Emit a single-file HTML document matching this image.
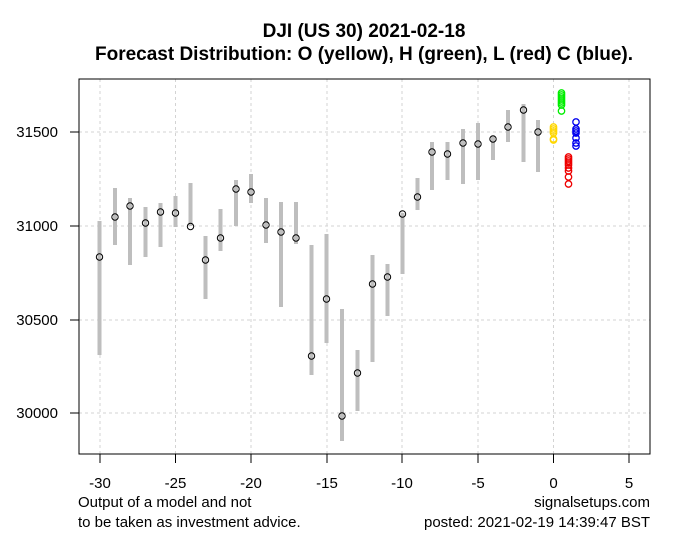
<!DOCTYPE html>
<html><head><meta charset="utf-8"><style>
body{margin:0;background:#fff}
svg text{font-family:"Liberation Sans",Arial,sans-serif}
</style></head><body>
<svg width="691" height="552" xmlns="http://www.w3.org/2000/svg">
<rect width="691" height="552" fill="#fff"/>
<text x="364" y="37" text-anchor="middle" font-size="19" font-weight="bold">DJI (US 30) 2021-02-18</text>
<text x="364" y="60" text-anchor="middle" font-size="19" font-weight="bold">Forecast Distribution: O (yellow), H (green), L (red) C (blue).</text>
<g stroke="#d3d3d3" stroke-dasharray="3,3" stroke-width="1">
<line x1="100" y1="79" x2="100" y2="454"/><line x1="175.5" y1="79" x2="175.5" y2="454"/>
<line x1="251" y1="79" x2="251" y2="454"/><line x1="327" y1="79" x2="327" y2="454"/>
<line x1="402" y1="79" x2="402" y2="454"/><line x1="478" y1="79" x2="478" y2="454"/>
<line x1="553.5" y1="79" x2="553.5" y2="454"/><line x1="629" y1="79" x2="629" y2="454"/>
<line x1="79" y1="132" x2="650" y2="132"/><line x1="79" y1="226" x2="650" y2="226"/>
<line x1="79" y1="320" x2="650" y2="320"/><line x1="79" y1="413" x2="650" y2="413"/>
</g>
<g stroke="#bebebe" stroke-width="4">
<line x1="99.5" y1="221" x2="99.5" y2="355"/>
<line x1="115" y1="188" x2="115" y2="245"/>
<line x1="130" y1="198" x2="130" y2="265"/>
<line x1="145.5" y1="207" x2="145.5" y2="257"/>
<line x1="160.5" y1="203" x2="160.5" y2="247"/>
<line x1="175.5" y1="196" x2="175.5" y2="227"/>
<line x1="190.5" y1="183" x2="190.5" y2="226"/>
<line x1="205.5" y1="236" x2="205.5" y2="299"/>
<line x1="220.5" y1="209" x2="220.5" y2="251"/>
<line x1="236" y1="180" x2="236" y2="226"/>
<line x1="251" y1="174" x2="251" y2="203"/>
<line x1="266" y1="198" x2="266" y2="243"/>
<line x1="281" y1="202" x2="281" y2="307"/>
<line x1="296" y1="202" x2="296" y2="244"/>
<line x1="311.5" y1="245" x2="311.5" y2="375"/>
<line x1="326.5" y1="234" x2="326.5" y2="343"/>
<line x1="342" y1="309" x2="342" y2="441"/>
<line x1="357.5" y1="350" x2="357.5" y2="411"/>
<line x1="372.5" y1="255" x2="372.5" y2="362"/>
<line x1="387.5" y1="264" x2="387.5" y2="316"/>
<line x1="402.5" y1="213" x2="402.5" y2="274"/>
<line x1="417.5" y1="178" x2="417.5" y2="210"/>
<line x1="432" y1="142" x2="432" y2="190"/>
<line x1="447.5" y1="142" x2="447.5" y2="180"/>
<line x1="463" y1="129" x2="463" y2="184"/>
<line x1="478" y1="123" x2="478" y2="180"/>
<line x1="493" y1="136" x2="493" y2="160"/>
<line x1="508" y1="110" x2="508" y2="142"/>
<line x1="523.5" y1="104" x2="523.5" y2="162"/>
<line x1="538" y1="120" x2="538" y2="172"/>
</g>
<g fill="none" stroke="#000" stroke-width="1">
<circle cx="99.5" cy="257" r="3.2"/><circle cx="115" cy="217" r="3.2"/><circle cx="130" cy="206" r="3.2"/>
<circle cx="145.5" cy="223" r="3.2"/><circle cx="160.5" cy="212" r="3.2"/><circle cx="175.5" cy="213" r="3.2"/>
<circle cx="190.5" cy="226.5" r="3.2"/><circle cx="205.5" cy="260" r="3.2"/><circle cx="220.5" cy="238" r="3.2"/>
<circle cx="236" cy="189" r="3.2"/><circle cx="251" cy="192" r="3.2"/><circle cx="266" cy="225" r="3.2"/>
<circle cx="281" cy="232" r="3.2"/><circle cx="296" cy="238" r="3.2"/><circle cx="311.5" cy="356" r="3.2"/>
<circle cx="326.5" cy="299" r="3.2"/><circle cx="342" cy="416" r="3.2"/><circle cx="357.5" cy="373" r="3.2"/>
<circle cx="372.5" cy="284" r="3.2"/><circle cx="387.5" cy="277" r="3.2"/><circle cx="402.5" cy="214" r="3.2"/>
<circle cx="417.5" cy="197" r="3.2"/><circle cx="432" cy="152" r="3.2"/><circle cx="447.5" cy="154" r="3.2"/>
<circle cx="463" cy="143" r="3.2"/><circle cx="478" cy="144" r="3.2"/><circle cx="493" cy="139" r="3.2"/>
<circle cx="508" cy="127" r="3.2"/><circle cx="523.5" cy="110" r="3.2"/><circle cx="538" cy="132" r="3.2"/>
</g>
<g fill="none" stroke="#ffd700" stroke-width="1.3">
<circle cx="553.5" cy="127" r="3.2"/><circle cx="553.5" cy="129" r="3.2"/><circle cx="553.5" cy="131" r="3.2"/><circle cx="553.5" cy="133" r="3.2"/><circle cx="553.5" cy="139" r="3.2"/><circle cx="553.5" cy="140" r="3.2"/>
</g>
<g fill="none" stroke="#00ee00" stroke-width="1.3">
<circle cx="561.5" cy="93" r="3.2"/><circle cx="561.5" cy="95" r="3.2"/><circle cx="561.5" cy="97" r="3.2"/><circle cx="561.5" cy="99" r="3.2"/><circle cx="561.5" cy="101" r="3.2"/><circle cx="561.5" cy="103" r="3.2"/><circle cx="561.5" cy="105" r="3.2"/><circle cx="561.5" cy="111" r="3.2"/>
</g>
<g fill="none" stroke="#ee0000" stroke-width="1.3">
<circle cx="568.5" cy="157" r="3.2"/><circle cx="568.5" cy="159" r="3.2"/><circle cx="568.5" cy="161" r="3.2"/><circle cx="568.5" cy="163" r="3.2"/><circle cx="568.5" cy="165" r="3.2"/><circle cx="568.5" cy="168" r="3.2"/><circle cx="568.5" cy="171" r="3.2"/><circle cx="568.5" cy="177" r="3.2"/><circle cx="568.5" cy="184" r="3.2"/>
</g>
<g fill="none" stroke="#0000ee" stroke-width="1.3">
<circle cx="576" cy="122" r="3.2"/><circle cx="576" cy="129" r="3.2"/><circle cx="576" cy="131" r="3.2"/><circle cx="576" cy="133" r="3.2"/><circle cx="576" cy="138" r="3.2"/><circle cx="576" cy="143" r="3.2"/><circle cx="576" cy="146" r="3.2"/>
</g>
<rect x="79" y="79" width="571" height="375" fill="none" stroke="#000" stroke-width="1"/>
<g stroke="#000" stroke-width="1">
<line x1="100" y1="454" x2="100" y2="463"/><line x1="175.5" y1="454" x2="175.5" y2="463"/>
<line x1="251" y1="454" x2="251" y2="463"/><line x1="327" y1="454" x2="327" y2="463"/>
<line x1="402" y1="454" x2="402" y2="463"/><line x1="478" y1="454" x2="478" y2="463"/>
<line x1="553.5" y1="454" x2="553.5" y2="463"/><line x1="629" y1="454" x2="629" y2="463"/>
<line x1="70" y1="132" x2="79" y2="132"/><line x1="70" y1="226" x2="79" y2="226"/>
<line x1="70" y1="320" x2="79" y2="320"/><line x1="70" y1="413" x2="79" y2="413"/>
</g>
<g font-size="15" text-anchor="middle">
<text x="100" y="488">-30</text><text x="175.5" y="488">-25</text><text x="251" y="488">-20</text>
<text x="327" y="488">-15</text><text x="402" y="488">-10</text><text x="478" y="488">-5</text>
<text x="553.5" y="488">0</text><text x="629" y="488">5</text>
</g>
<g font-size="15" text-anchor="end">
<text x="58" y="137">31500</text><text x="58" y="231">31000</text>
<text x="58" y="325">30500</text><text x="58" y="418">30000</text>
</g>
<text x="78" y="507" font-size="15">Output of a model and not</text>
<text x="78" y="527" font-size="15">to be taken as investment advice.</text>
<text x="650" y="507" font-size="15" text-anchor="end">signalsetups.com</text>
<text x="650" y="527" font-size="15" text-anchor="end">posted: 2021-02-19 14:39:47 BST</text>
</svg>
</body></html>
